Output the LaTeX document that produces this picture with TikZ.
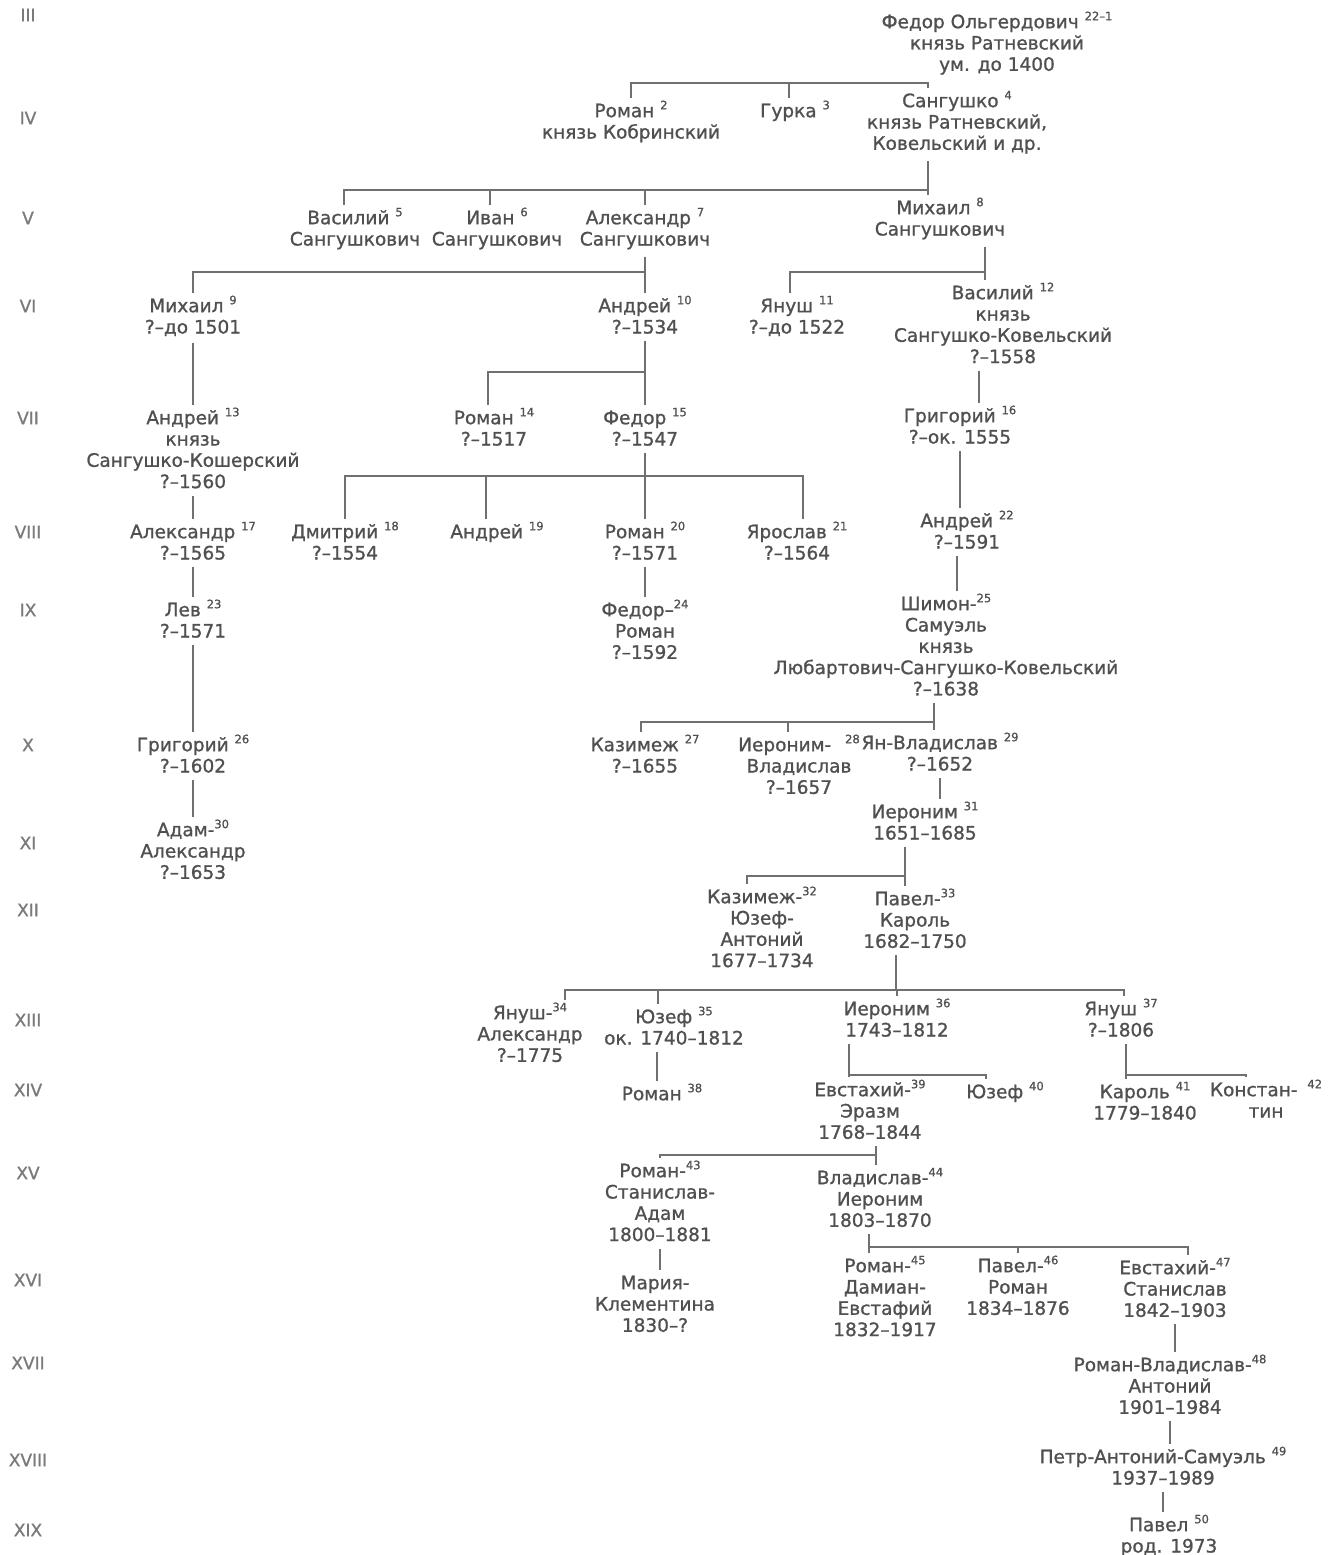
\documentclass[tikz,border=0pt]{standalone}
\usepackage{fontspec}
\setmainfont{DejaVu Sans}[UprightFeatures={FakeBold=1.1}]
\usetikzlibrary{positioning,calc}

\definecolor{ink}{HTML}{505050}
\definecolor{linegray}{HTML}{707070}
\definecolor{numgray}{HTML}{7A7A7A}

% strut for the first line and the small index number
\newcommand{\hstrut}{\rule{0pt}{17pt}}
\newcommand{\gn}[1]{\hstrut\raisebox{8pt}{\fontsize{11.5}{11.5}\selectfont #1}}

\begin{document}
\begin{tikzpicture}[
x=1pt, y=-1pt,
person/.style={anchor=north, align=center, inner xsep=0pt, inner ysep=2pt, text=ink, font=\fontsize{18.5}{21.3}\selectfont},
gen/.style={text=numgray, font=\fontsize{17}{17}\selectfont},
link/.style={draw=linegray, line width=1.3pt},
drop/.style={link, shorten <=5pt}
]
\useasboundingbox (0,0) rectangle (1334,1555);

% generations
\foreach \g/\y in {III/15,IV/118,V/218,VI/306,VII/418,VIII/532,IX/610,X/745,XI/843,XII/910,XIII/1020,XIV/1090,XV/1173,XVI/1280,XVII/1363,XVIII/1460,XIX/1530}
  \node[gen] (gen\g) at (28,\y) {\g};

% III
\node[person] (fedor) at (997,9) {Федор Ольгердович \gn{22–1}\\князь Ратневский\\ум. до 1400};
% IV
\node[person] (roman2) at (631,98) {Роман \gn{2}\\князь Кобринский};
\node[person] (gurka) at (795,98) {Гурка \gn{3}};
\node[person] (sang4) at (957,88) {Сангушко \gn{4}\\князь Ратневский,\\Ковельский и др.};
% V
\node[person] (vas5) at (355,205) {Василий \gn{5}\\Сангушкович};
\node[person] (ivan6) at (497,205) {Иван \gn{6}\\Сангушкович};
\node[person] (alex7) at (645,205) {Александр \gn{7}\\Сангушкович};
\node[person] (mikh8) at (940,195) {Михаил \gn{8}\\Сангушкович};
% VI
\node[person] (mikh9) at (193,293) {Михаил \gn{9}\\?–до 1501};
\node[person] (andr10) at (645,293) {Андрей \gn{10}\\?–1534};
\node[person] (yan11) at (797,293) {Януш \gn{11}\\?–до 1522};
\node[person] (vas12) at (1003,280) {Василий \gn{12}\\князь\\Сангушко-Ковельский\\?–1558};
% VII
\node[person] (andr13) at (193,405) {Андрей \gn{13}\\князь\\Сангушко-Кошерский\\?–1560};
\node[person] (roman14) at (494,405) {Роман \gn{14}\\?–1517};
\node[person] (fedor15) at (645,405) {Федор \gn{15}\\?–1547};
\node[person] (grig16) at (960,403) {Григорий \gn{16}\\?–ок. 1555};
% VIII
\node[person] (alex17) at (193,519) {Александр \gn{17}\\?–1565};
\node[person] (dmit18) at (345,519) {Дмитрий \gn{18}\\?–1554};
\node[person] (andr19) at (497,519) {Андрей \gn{19}};
\node[person] (roman20) at (645,519) {Роман \gn{20}\\?–1571};
\node[person] (yar21) at (797,519) {Ярослав \gn{21}\\?–1564};
\node[person] (andr22) at (967,508) {Андрей \gn{22}\\?–1591};
% IX
\node[person] (lev23) at (193,597) {Лев \gn{23}\\?–1571};
\node[person] (fedor24) at (645,597) {Федор–\gn{24}\\Роман\\?–1592};
\node[person] (shim25) at (946,591) {Шимон-\gn{25}\\Самуэль\\князь\\Любартович-Сангушко-Ковельский\\?–1638};
% X
\node[person] (grig26) at (193,732) {Григорий \gn{26}\\?–1602};
\node[person] (kaz27) at (645,732) {Казимеж \gn{27}\\?–1655};
\node[person] (ier28) at (799,732) {Иероним-\hspace{8pt} \gn{28}\\Владислав\\?–1657};
\node[person] (yan29) at (940,730) {Ян-Владислав \gn{29}\\?–1652};
% XI
\node[person] (adam30) at (193,817) {Адам-\gn{30}\\Александр\\?–1653};
\node[person] (ier31) at (925,799) {Иероним \gn{31}\\1651–1685};
% XII
\node[person] (kaz32) at (762,884) {Казимеж-\gn{32}\\Юзеф-\\Антоний\\1677–1734};
\node[person] (pav33) at (915,886) {Павел-\gn{33}\\Кароль\\1682–1750};
% XIII
\node[person] (yan34) at (530,1000) {Януш-\gn{34}\\Александр\\?–1775};
\node[person] (yuz35) at (674,1004) {Юзеф \gn{35}\\ок. 1740–1812};
\node[person] (ier36) at (897,996) {Иероним \gn{36}\\1743–1812};
\node[person] (yan37) at (1121,996) {Януш \gn{37}\\?–1806};
% XIV
\node[person] (roman38) at (662,1081) {Роман \gn{38}};
\node[person] (evst39) at (870,1077) {Евстахий-\gn{39}\\Эразм\\1768–1844};
\node[person] (yuz40) at (1005,1079) {Юзеф \gn{40}};
\node[person] (karol41) at (1145,1079) {Кароль \gn{41}\\1779–1840};
\node[person] (konst42) at (1266,1077) {Констан-\hspace{4pt} \gn{42}\\тин};
% XV
\node[person] (roman43) at (660,1158) {Роман-\gn{43}\\Станислав-\\Адам\\1800–1881};
\node[person] (vlad44) at (880,1165) {Владислав-\gn{44}\\Иероним\\1803–1870};
% XVI
\node[person] (maria) at (655,1270) {\hstrut Мария-\\Клементина\\1830–?};
\node[person] (roman45) at (885,1253) {Роман-\gn{45}\\Дамиан-\\Евстафий\\1832–1917};
\node[person] (pav46) at (1018,1253) {Павел-\gn{46}\\Роман\\1834–1876};
\node[person] (evst47) at (1175,1255) {Евстахий-\gn{47}\\Станислав\\1842–1903};
% XVII - XIX
\node[person] (roman48) at (1170,1352) {Роман-Владислав-\gn{48}\\Антоний\\1901–1984};
\node[person] (petr49) at (1163,1444) {Петр-Антоний-Самуэль \gn{49}\\1937–1989};
\node[person] (pav50) at (1169,1512) {Павел \gn{50}\\род. 1973};

% III -> IV
\coordinate (j1) at (928,83);
\draw[drop] (fedor.south -| j1) -- (j1);
\draw[link] (j1) -| (roman2.north);
\draw[link] (j1) -| ([xshift=-6]gurka.north);
\draw[link] (j1) -| ([xshift=-29]sang4.north);
% IV -> V
\coordinate (j2) at (928,190);
\draw[drop] (sang4.south -| j2) -- (j2);
\draw[link] (j2) -| ([xshift=-11]vas5.north);
\draw[link] (j2) -| ([xshift=-7]ivan6.north);
\draw[link] (j2) -| (alex7.north);
\draw[link] (j2) -| ([xshift=-12]mikh8.north);
% V -> VI
\coordinate (j3) at (645,272);
\draw[drop] (alex7.south -| j3) -- (j3);
\draw[link] (j3) -| (mikh9.north);
\draw[link] (j3) -| (andr10.north);
\coordinate (j4) at (985,272);
\draw[drop] (mikh8.south -| j4) -- (j4);
\draw[link] (j4) -| ([xshift=-7]yan11.north);
\draw[link] (j4) -| ([xshift=-18]vas12.north);
% VI -> VII
\draw[drop] (mikh9.south) -- (mikh9.south |- andr13.north);
\coordinate (j5) at (645,372);
\draw[drop] (andr10.south -| j5) -- (j5);
\draw[link] (j5) -| ([xshift=-6]roman14.north);
\draw[link] (j5) -| (fedor15.north);
\draw[drop] ([xshift=-24]vas12.south) -- ([xshift=-24]vas12.south |- grig16.north);
% VII -> VIII
\draw[drop] (andr13.south) -- (andr13.south |- alex17.north);
\coordinate (j6) at (645,476);
\draw[drop] (fedor15.south -| j6) -- (j6);
\draw[link] (j6) -| (dmit18.north);
\draw[link] (j6) -| ([xshift=-11]andr19.north);
\draw[link] (j6) -| (roman20.north);
\draw[link] (j6) -| ([xshift=6]yar21.north);
\draw[drop] (grig16.south) -- (grig16.south |- andr22.north);
% VIII -> IX
\draw[drop] (alex17.south) -- (alex17.south |- lev23.north);
\draw[drop] (roman20.south) -- (roman20.south |- fedor24.north);
\draw[drop] ([xshift=-10]andr22.south) -- ([xshift=-10]andr22.south |- shim25.north);
% IX -> X
\draw[drop] (lev23.south) -- (lev23.south |- grig26.north);
\coordinate (j7) at (934,722);
\draw[drop] (shim25.south -| j7) -- (j7);
\draw[link] (j7) -| ([xshift=-4]kaz27.north);
\draw[link] (j7) -| ([xshift=-11]ier28.north);
\draw[link] (j7) -| ([xshift=-6]yan29.north);
% X -> XI
\draw[drop] (grig26.south) -- (grig26.south |- adam30.north);
\draw[drop] (yan29.south) -- (yan29.south |- ier31.north);
% XI -> XII
\coordinate (j8) at (905,876);
\draw[drop] (ier31.south -| j8) -- (j8);
\draw[link] (j8) -| ([xshift=-15]kaz32.north);
\draw[link] (j8) -| ([xshift=-10]pav33.north);
% XII -> XIII
\coordinate (j9) at (896,990);
\draw[drop] (pav33.south -| j9) -- (j9);
\draw[link] (j9) -| ([xshift=35]yan34.north);
\draw[link] (j9) -| ([xshift=-16]yuz35.north);
\draw[link] (j9) -| (ier36.north);
\draw[link] (j9) -| ([xshift=3]yan37.north);
% XIII -> XIV
\draw[drop] ([xshift=-5]roman38.north |- yuz35.south) -- ([xshift=-5]roman38.north);
\coordinate (j10) at (849,1075);
\draw[drop] (ier36.south -| j10) -- (j10);
\draw[link] (j10) -| ([xshift=-21]evst39.north);
\draw[link] (j10) -| ([xshift=-19]yuz40.north);
\coordinate (j11) at (1126,1075);
\draw[drop] (yan37.south -| j11) -- (j11);
\draw[link] (j11) -| ([xshift=-19]karol41.north);
\draw[link] (j11) -| ([xshift=-20]konst42.north);
% XIV -> XV
\coordinate (j12) at (876,1155);
\draw[drop] (evst39.south -| j12) -- (j12);
\draw[link] (j12) -| (roman43.north);
\draw[link] (j12) -| ([xshift=-4]vlad44.north);
% XV -> XVI
\draw[drop] (roman43.south) -- (roman43.south |- maria.north);
\coordinate (j13) at (869,1247);
\draw[drop] (vlad44.south -| j13) -- (j13);
\draw[link] (j13) -| ([xshift=-16]roman45.north);
\draw[link] (j13) -| (pav46.north);
\draw[link] (j13) -| ([xshift=13]evst47.north);
% XVI -> XIX
\draw[drop] (evst47.south) -- (evst47.south |- roman48.north);
\draw[drop] (roman48.south) -- (roman48.south |- petr49.north);
\draw[drop] (petr49.south) -- (petr49.south |- pav50.north);
\end{tikzpicture}
\end{document}
